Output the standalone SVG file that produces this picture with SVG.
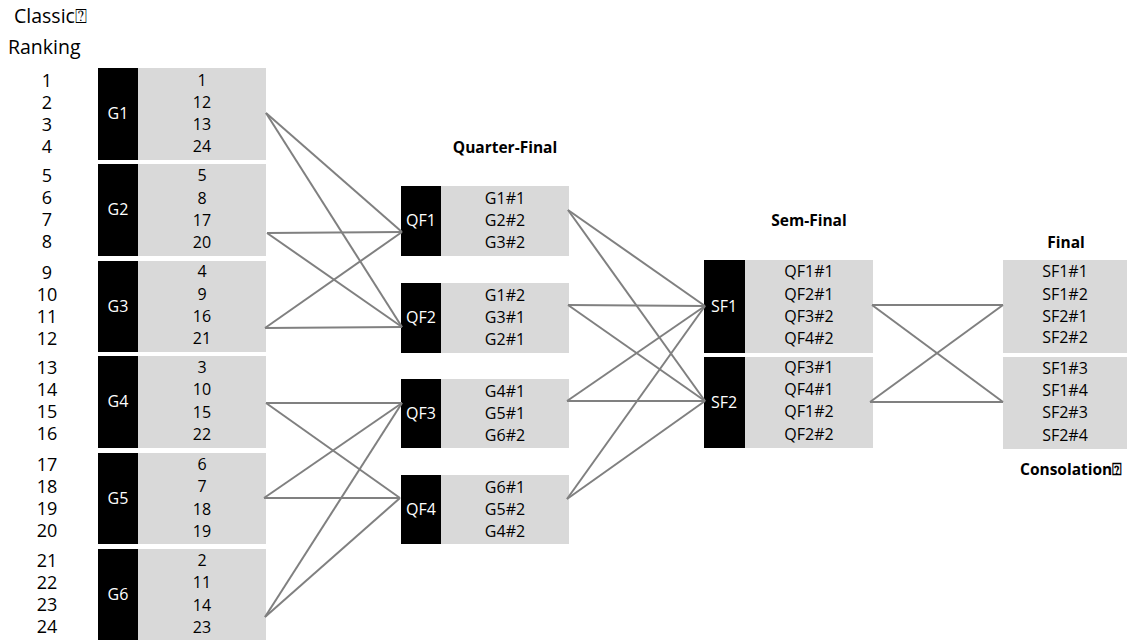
<svg xmlns="http://www.w3.org/2000/svg" width="1134" height="640" viewBox="0 0 1134 640">
<style>
.bk{fill:#000}
.gy{fill:#d9d9d9}
text{font-family:"Open Sans","Liberation Sans",sans-serif}
.t{font-size:16px;fill:#000;text-anchor:middle}
.w{font-size:16px;fill:#fff;text-anchor:middle}
.r{font-size:18px;fill:#000;text-anchor:middle}
.h{font-size:15.5px;font-weight:bold;fill:#000;text-anchor:middle}
.c line{stroke:#808080;stroke-width:2}
</style>
<rect width="1134" height="640" fill="#fff"/>
<g id="header">
<text x="14" y="23" style="font-size:19.5px">Classic⍰</text>
<text x="8" y="54" style="font-size:19.5px">Ranking</text>
</g>
<g id="ranks" class="r">
<text x="47" y="87">1</text><text x="47" y="109">2</text><text x="47" y="131">3</text><text x="47" y="153">4</text>
<text x="47" y="182">5</text><text x="47" y="204">6</text><text x="47" y="226">7</text><text x="47" y="248">8</text>
<text x="47" y="279">9</text><text x="47" y="301">10</text><text x="47" y="323">11</text><text x="47" y="345">12</text>
<text x="47" y="374">13</text><text x="47" y="396">14</text><text x="47" y="418">15</text><text x="47" y="440">16</text>
<text x="47" y="471">17</text><text x="47" y="493">18</text><text x="47" y="515">19</text><text x="47" y="537">20</text>
<text x="47" y="567">21</text><text x="47" y="589">22</text><text x="47" y="611">23</text><text x="47" y="633">24</text>
</g>
<g id="G1"><rect class="bk" x="98" y="68" width="40" height="92"/><rect class="gy" x="138" y="68" width="128" height="92"/>
<text class="w" x="118" y="119">G1</text>
<text class="t" x="202" y="86">1</text><text class="t" x="202" y="108">12</text><text class="t" x="202" y="130">13</text><text class="t" x="202" y="152">24</text></g>
<g id="G2"><rect class="bk" x="98" y="164" width="40" height="92"/><rect class="gy" x="138" y="164" width="128" height="92"/>
<text class="w" x="118" y="215">G2</text>
<text class="t" x="202" y="181">5</text><text class="t" x="202" y="204">8</text><text class="t" x="202" y="226">17</text><text class="t" x="202" y="248">20</text></g>
<g id="G3"><rect class="bk" x="98" y="261" width="40" height="91"/><rect class="gy" x="138" y="261" width="128" height="91"/>
<text class="w" x="118" y="312">G3</text>
<text class="t" x="202" y="277">4</text><text class="t" x="202" y="300">9</text><text class="t" x="202" y="322">16</text><text class="t" x="202" y="344">21</text></g>
<g id="G4"><rect class="bk" x="98" y="356" width="40" height="92"/><rect class="gy" x="138" y="356" width="128" height="92"/>
<text class="w" x="118" y="407">G4</text>
<text class="t" x="202" y="373">3</text><text class="t" x="202" y="395">10</text><text class="t" x="202" y="418">15</text><text class="t" x="202" y="440">22</text></g>
<g id="G5"><rect class="bk" x="98" y="453" width="40" height="91"/><rect class="gy" x="138" y="453" width="128" height="91"/>
<text class="w" x="118" y="504">G5</text>
<text class="t" x="202" y="470">6</text><text class="t" x="202" y="492">7</text><text class="t" x="202" y="515">18</text><text class="t" x="202" y="537">19</text></g>
<g id="G6"><rect class="bk" x="98" y="549" width="40" height="91"/><rect class="gy" x="138" y="549" width="128" height="91"/>
<text class="w" x="118" y="600">G6</text>
<text class="t" x="202" y="566">2</text><text class="t" x="202" y="588">11</text><text class="t" x="202" y="611">14</text><text class="t" x="202" y="633">23</text></g>
<text class="h" x="505" y="153">Quarter-Final</text>
<g id="QF1"><rect class="bk" x="401" y="186" width="40" height="70"/><rect class="gy" x="441" y="186" width="128" height="70"/>
<text class="w" x="421" y="226">QF1</text>
<text class="t" x="505" y="204">G1#1</text><text class="t" x="505" y="226">G2#2</text><text class="t" x="505" y="248">G3#2</text></g>
<g id="QF2"><rect class="bk" x="401" y="283" width="40" height="70"/><rect class="gy" x="441" y="283" width="128" height="70"/>
<text class="w" x="421" y="323">QF2</text>
<text class="t" x="505" y="301">G1#2</text><text class="t" x="505" y="323">G3#1</text><text class="t" x="505" y="345">G2#1</text></g>
<g id="QF3"><rect class="bk" x="401" y="379" width="40" height="69"/><rect class="gy" x="441" y="379" width="128" height="69"/>
<text class="w" x="421" y="419">QF3</text>
<text class="t" x="505" y="397">G4#1</text><text class="t" x="505" y="419">G5#1</text><text class="t" x="505" y="441">G6#2</text></g>
<g id="QF4"><rect class="bk" x="401" y="475" width="40" height="69"/><rect class="gy" x="441" y="475" width="128" height="69"/>
<text class="w" x="421" y="515">QF4</text>
<text class="t" x="505" y="493">G6#1</text><text class="t" x="505" y="515">G5#2</text><text class="t" x="505" y="537">G4#2</text></g>
<text class="h" x="809" y="226">Sem-Final</text>
<g id="SF1"><rect class="bk" x="704" y="260" width="41" height="93"/><rect class="gy" x="745" y="260" width="128" height="93"/>
<text class="w" x="724" y="312">SF1</text>
<text class="t" x="809" y="277">QF1#1</text><text class="t" x="809" y="300">QF2#1</text><text class="t" x="809" y="322">QF3#2</text><text class="t" x="809" y="344">QF4#2</text></g>
<g id="SF2"><rect class="bk" x="704" y="357" width="41" height="91"/><rect class="gy" x="745" y="357" width="128" height="91"/>
<text class="w" x="724" y="408">SF2</text>
<text class="t" x="809" y="373">QF3#1</text><text class="t" x="809" y="395">QF4#1</text><text class="t" x="809" y="417">QF1#2</text><text class="t" x="809" y="440">QF2#2</text></g>
<text class="h" x="1066" y="248">Final</text>
<g id="Final"><rect class="gy" x="1003" y="260" width="124" height="93"/>
<text class="t" x="1065" y="277">SF1#1</text><text class="t" x="1065" y="300">SF1#2</text><text class="t" x="1065" y="322">SF2#1</text><text class="t" x="1065" y="343">SF2#2</text></g>
<g id="Consolation"><rect class="gy" x="1003" y="357" width="124" height="92"/>
<text class="t" x="1065" y="374">SF1#3</text><text class="t" x="1065" y="396">SF1#4</text><text class="t" x="1065" y="418">SF2#3</text><text class="t" x="1065" y="441">SF2#4</text></g>
<text x="1020" y="475" style="font-size:15.5px;font-weight:bold">Consolation⍰</text>
<g id="connectors" class="c">
<line x1="266" y1="113" x2="402" y2="232"/><line x1="266" y1="113" x2="402" y2="327"/>
<line x1="267" y1="233" x2="402" y2="232"/><line x1="267" y1="233" x2="402" y2="327"/>
<line x1="265" y1="328" x2="402" y2="232"/><line x1="265" y1="328" x2="402" y2="327"/>
<line x1="266" y1="403" x2="402" y2="403"/><line x1="266" y1="403" x2="400" y2="498"/>
<line x1="264" y1="498" x2="402" y2="403"/><line x1="264" y1="498" x2="400" y2="498"/>
<line x1="265" y1="617" x2="402" y2="403"/><line x1="265" y1="617" x2="400" y2="498"/>
<line x1="568" y1="210" x2="705" y2="306"/><line x1="568" y1="210" x2="705" y2="401"/>
<line x1="568" y1="305" x2="705" y2="306"/><line x1="568" y1="305" x2="705" y2="401"/>
<line x1="567" y1="401" x2="705" y2="306"/><line x1="567" y1="401" x2="705" y2="401"/>
<line x1="567" y1="499" x2="705" y2="306"/><line x1="567" y1="499" x2="705" y2="401"/>
<line x1="872" y1="305" x2="1003" y2="305"/><line x1="872" y1="305" x2="1003" y2="402"/>
<line x1="870" y1="402" x2="1003" y2="402"/><line x1="870" y1="402" x2="1003" y2="305"/>
</g>
</svg>
